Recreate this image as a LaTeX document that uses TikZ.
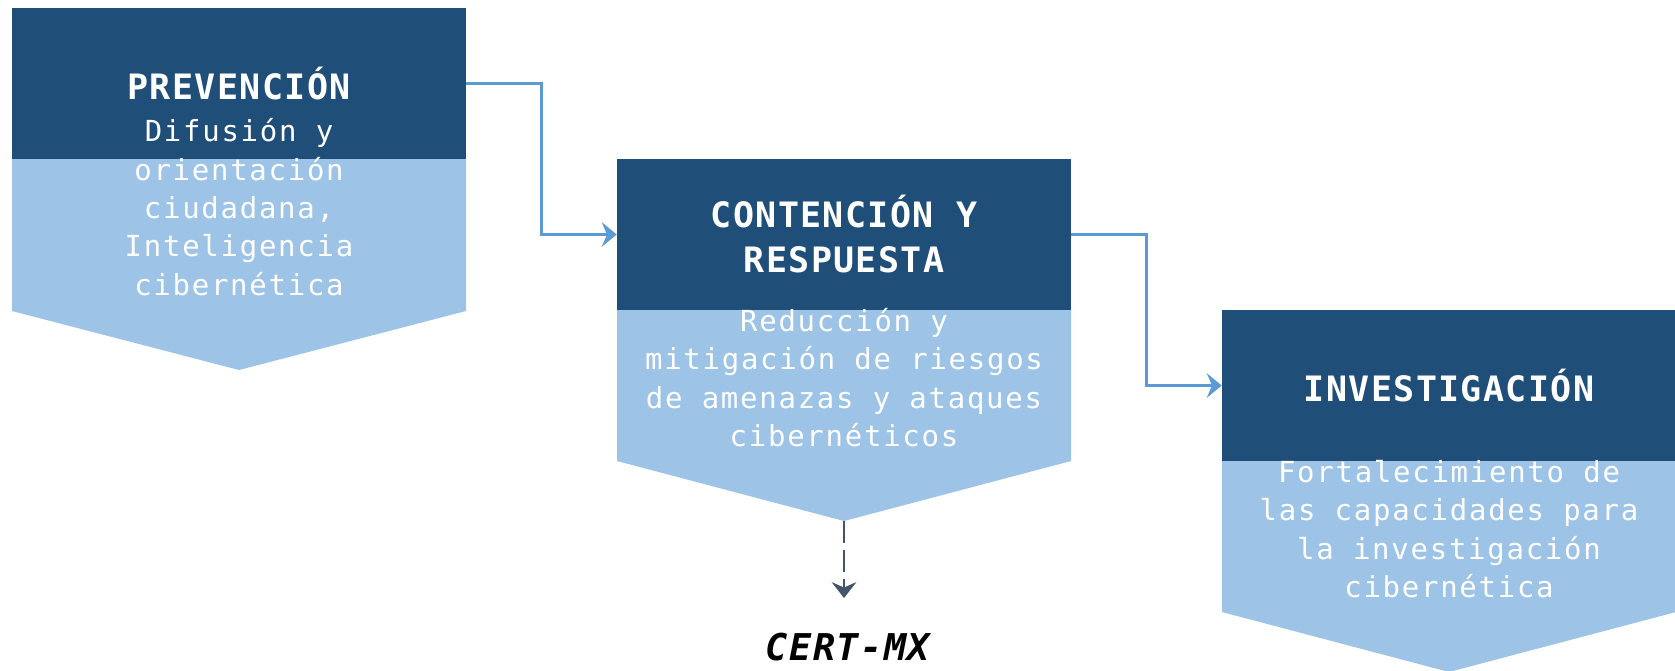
\documentclass[tikz,border=0pt]{standalone}
\usepackage{fontspec}
\usetikzlibrary{arrows.meta}
\newfontfamily\bodyfont[LetterSpace=6]{DejaVu Sans Mono}
\newfontfamily\headfont[LetterSpace=4]{DejaVu Sans Mono}
\definecolor{darkband}{HTML}{1F4E79}
\definecolor{lightband}{HTML}{9DC3E6}
\definecolor{flowblue}{HTML}{5B9BD5}
\definecolor{certgray}{HTML}{44546A}
\tikzset{
	band/.style = {fill=darkband, text=white, inner sep=0, minimum width=9.08cm, minimum height=3.02cm, align=center, font=\headfont\bfseries\fontsize{19.9pt}{25.6pt}\selectfont},
	chevron/.style = {fill=lightband},
	bodytext/.style = {text=white, align=center, inner sep=0, font=\bodyfont\fontsize{16.5pt}{21.85pt}\selectfont},
	certlabel/.style = {inner sep=0, font=\headfont\bfseries\itshape\fontsize{21pt}{25pt}\selectfont},
	flow/.style = {draw=flowblue, line width=1.4pt, -{Stealth[length=8.5pt, width=14pt, inset=3pt]}},
	dashflow/.style = {draw=certgray, line width=1.4pt, dash pattern=on 12.5pt off 4pt, -{Stealth[length=9pt, width=14pt, inset=3pt]}}
}
\begin{document}
\begin{tikzpicture}[x=0.02cm, y=-0.02cm]
	\useasboundingbox (0, 0) rectangle (1675, 670);
	% lower parts
	\fill[chevron] (12, 159) -- (12, 311) -- (239, 370) -- (466, 311) -- (466, 159) -- cycle;
	\fill[chevron] (617, 310) -- (617, 461) -- (844, 521) -- (1071, 461) -- (1071, 310) -- cycle;
	\fill[chevron] (1222, 461) -- (1222, 612) -- (1449, 672) -- (1676, 612) -- (1676, 461) -- cycle;
	% headers
	\node[band] (prev) at (239, 83.5) {PREVENCIÓN};
	\node[band] (cont) at (844, 234.5) {CONTENCIÓN Y\\RESPUESTA};
	\node[band] (inv) at (1449, 385.5) {INVESTIGACIÓN};
	% texts
	\node[bodytext] (prevtxt) at (239, 207) {Difusión y\\orientación\\ciudadana,\\Inteligencia\\cibernética};
	\node[bodytext] (conttxt) at (844, 377.5) {Reducción y\\mitigación de riesgos\\de amenazas y ataques\\cibernéticos};
	\node[bodytext] (invtxt) at (1449, 529) {Fortalecimiento de\\las capacidades para\\la investigación\\cibernética};
	% flow
	\draw[flow] (prev.east) -- ++(75, 0) |- (cont.west);
	\draw[flow] (cont.east) -- ++(75, 0) |- (inv.west);
	\coordinate (conttip) at (844, 521);
	\coordinate (certtop) at (844, 598);
	\draw[dashflow] (conttip) -- (certtop);
	\node[certlabel] (cert) at (848, 647) {CERT-MX};
\end{tikzpicture}
\end{document}
